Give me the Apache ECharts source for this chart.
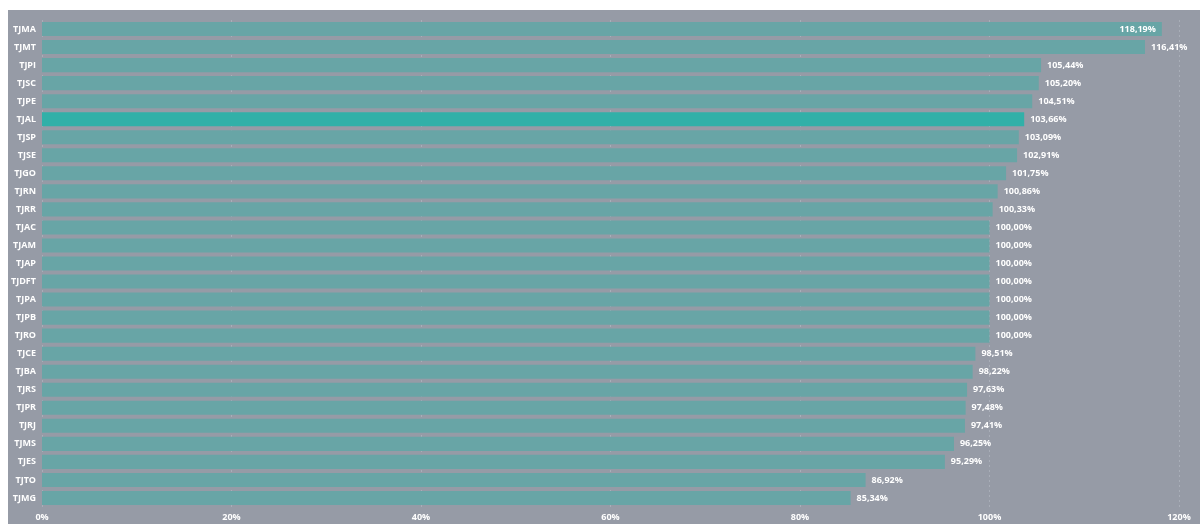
<!DOCTYPE html>
<html>
<head>
<meta charset="utf-8">
<script src="https://cdn.jsdelivr.net/npm/echarts@6/dist/echarts.min.js"></script>
<style>
html,body{margin:0;padding:0;background:#ffffff;}
#chart{position:absolute;left:8px;top:10px;width:1192px;height:514px;background:#969ba6;}
</style>
</head>
<body>
<div id="chart"></div>
<script>
const categories = ["TJMA","TJMT","TJPI","TJSC","TJPE","TJAL","TJSP","TJSE","TJGO","TJRN","TJRR","TJAC","TJAM","TJAP","TJDFT","TJPA","TJPB","TJRO","TJCE","TJBA","TJRS","TJPR","TJRJ","TJMS","TJES","TJTO","TJMG"];
const values = [118.19,116.41,105.44,105.20,104.51,103.66,103.09,102.91,101.75,100.86,100.33,100,100,100,100,100,100,100,98.51,98.22,97.63,97.48,97.41,96.25,95.29,86.92,85.34];
const highlighted = "TJAL";
const insideLabel = "TJMA";

const chart = echarts.init(document.getElementById('chart'));
const fmt = v => v.toFixed(2).replace('.', ',') + '%';
const data = categories.map((c, i) => {
  const d = { value: values[i] };
  if (c === highlighted) d.itemStyle = { color: '#31b0a8' };
  if (c === insideLabel) d.label = { position: 'insideRight', distance: 6 };
  return d;
});
chart.setOption({
  animation: false,
  grid: { left: 32, right: 21, top: 10, bottom: 17, containLabel: false },
  xAxis: {
    type: 'value', min: 0, max: 120, interval: 20,
    axisLine: { show: false }, axisTick: { show: false },
    splitLine: { show: true, lineStyle: { color: '#a9aeb8', type: [2, 3], width: 1 } },
    axisLabel: { color: '#ffffff', fontSize: 9, fontWeight: 'bold', fontFamily: 'Open Sans', formatter: v => v + '%', margin: 6 }
  },
  yAxis: {
    type: 'category', data: categories, inverse: true,
    axisLine: { show: false }, axisTick: { show: false },
    axisLabel: { color: '#ffffff', fontSize: 9, fontWeight: 'bold', fontFamily: 'Open Sans', margin: 6 }
  },
  series: [{
    type: 'bar', data: data, barCategoryGap: '22%',
    itemStyle: { color: '#68a5a6' },
    label: { show: true, position: 'right', distance: 6, color: '#ffffff', fontSize: 9, fontWeight: 'bold', fontFamily: 'Open Sans', formatter: p => fmt(p.value) }
  }]
});
</script>
</body>
</html>
